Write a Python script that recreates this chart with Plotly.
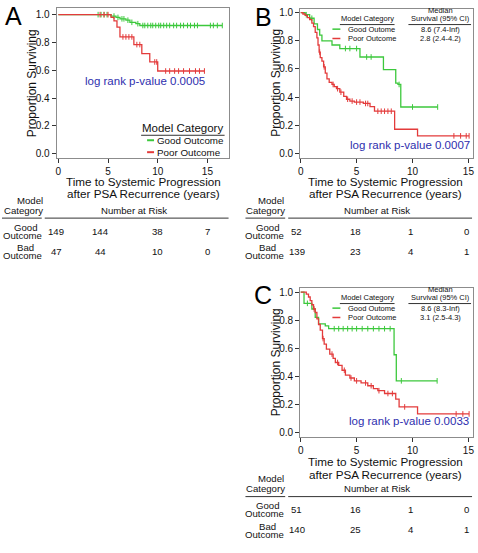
import numpy as np
import plotly.graph_objects as go

W, H = 478, 553
FONT = "Arial, 'Liberation Sans', sans-serif"
GREEN = "#3cc83c"
RED = "#e33b3b"
BLUE = "#2e2eae"
INK = "#111111"

# ---------------- data ----------------
# Panel A
a_good_time = [0, 5.3, 5.8, 6.2, 6.8, 7.2, 7.8, 8.2, 16.5]
a_good_surv = [1.0, 0.99, 0.98, 0.97, 0.96, 0.945, 0.935, 0.922, 0.922]
a_good_cens = [4.0, 4.3, 4.6, 4.9, 5.6, 6.0, 6.4, 6.6, 7.0, 7.4, 8.0, 8.5, 8.7, 9.0, 9.3,
               9.5, 9.8, 10.1, 10.3, 10.6, 10.9, 11.2, 11.6, 11.9, 12.3, 12.6, 13.0, 13.3,
               13.7, 14.0, 15.3, 15.6, 16.0, 16.5]
a_poor_time = [0, 5.3, 5.6, 5.9, 6.2, 7.6, 8.4, 9.2, 10.0, 14.7]
a_poor_surv = [1.0, 0.98, 0.955, 0.91, 0.84, 0.785, 0.72, 0.66, 0.595, 0.595]
a_poor_cens = [4.2, 4.6, 5.0, 6.5, 6.8, 7.1, 7.4, 7.9, 8.2, 9.7, 9.9, 10.8, 11.2, 11.7,
               12.1, 12.6, 13.2, 13.8, 14.2, 14.7]

# Panel B
b_good_time = [0, 0.4, 0.8, 1.2, 1.5, 1.7, 1.9, 2.8, 3.5, 5.3, 7.4, 8.5, 8.7, 8.95, 12.25]
b_good_surv = [1.0, 0.985, 0.96, 0.92, 0.88, 0.84, 0.80, 0.77, 0.745, 0.685, 0.595, 0.5,
               0.49, 0.33, 0.33]
b_good_cens = [0.5, 1.0, 4.0, 4.4, 5.0, 5.9, 6.3, 8.8, 10.0, 12.25]
b_poor_time = [0, 0.2, 0.4, 0.6, 0.8, 1.0, 1.15, 1.3, 1.45, 1.55, 1.65, 1.75, 1.9, 2.05,
               2.2, 2.35, 2.55, 2.8, 3.0, 3.2, 3.5, 3.85, 4.1, 4.4, 4.8, 5.6, 6.2, 6.6,
               8.4, 10.45, 15.06]
b_poor_surv = [1.0, 0.99, 0.98, 0.965, 0.95, 0.925, 0.9, 0.86, 0.82, 0.77, 0.72, 0.68,
               0.655, 0.615, 0.57, 0.53, 0.505, 0.49, 0.475, 0.46, 0.435, 0.405, 0.385,
               0.372, 0.365, 0.355, 0.332, 0.30, 0.172, 0.125, 0.125]
b_poor_cens = [1.7, 2.1, 2.9, 3.3, 3.6, 4.2, 4.6, 5.0, 5.3, 5.8, 6.0, 6.9, 7.2, 7.5, 7.8,
               8.1, 13.7, 14.3, 14.8, 15.06]

# Panel C
c_good_time = [0, 0.3, 1.0, 1.3, 1.6, 2.2, 2.5, 8.35, 8.55, 12.2]
c_good_surv = [1.0, 0.92, 0.88, 0.82, 0.775, 0.76, 0.74, 0.555, 0.37, 0.37]
c_good_cens = [0.6, 3.0, 3.4, 3.8, 4.2, 4.6, 5.0, 5.5, 6.0, 6.5, 7.0, 7.5, 8.0, 9.0, 12.2]
c_poor_time = [0, 0.5, 0.7, 0.85, 1.0, 1.15, 1.3, 1.45, 1.6, 1.75, 1.95, 2.1, 2.3, 2.6,
               2.9, 3.1, 3.4, 3.7, 4.0, 4.4, 4.8, 5.4, 6.0, 6.5, 6.9, 7.5, 8.5, 8.8,
               10.45, 15.06]
c_poor_surv = [1.0, 0.985, 0.965, 0.94, 0.91, 0.88, 0.855, 0.81, 0.77, 0.73, 0.67, 0.63,
               0.595, 0.56, 0.53, 0.5, 0.48, 0.445, 0.41, 0.39, 0.37, 0.355, 0.335,
               0.315, 0.3, 0.28, 0.24, 0.185, 0.135, 0.135]
c_poor_cens = [1.2, 2.0, 2.8, 3.3, 3.9, 4.5, 5.0, 5.8, 6.3, 7.0, 7.8, 8.2, 9.3, 13.9,
               14.5, 15.06]

# Risk tables
risk_times = [0, 5, 10, 15]
a_risk_good = [149, 144, 38, 7]
a_risk_bad = [47, 44, 10, 0]
b_risk_good = [52, 18, 1, 0]
b_risk_bad = [139, 23, 4, 1]
c_risk_good = [51, 16, 1, 0]
c_risk_bad = [140, 25, 4, 1]

# Text
pvalues = ["0.0005", "0.0007", "0.0033"]
group_labels_a = ["Good Outcome", "Poor Outcome"]
group_labels_bc = ["Good Outome", "Poor Outcome"]
b_medians = ["8.6 (7.4-Inf)", "2.8 (2.4-4.2)"]
c_medians = ["8.6 (8.3-Inf)", "3.1 (2.5-4.3)"]
x_ticks = [0, 5, 10, 15]
y_ticks = [0.0, 0.2, 0.4, 0.6, 0.8, 1.0]


def px(x):
    return x / W


def py(y):
    return 1 - y / H


def step_at(times, surv, t):
    i = int(np.searchsorted(np.array(times), t, side="right")) - 1
    return surv[max(i, 0)]


fig = go.Figure()


def add_curve(times, surv, cens, color, ax):
    xa = "x" if ax == 1 else f"x{ax}"
    ya = "y" if ax == 1 else f"y{ax}"
    fig.add_trace(go.Scatter(x=times, y=surv, mode="lines", line=dict(color=color, width=1.3, shape="hv"),
                             xaxis=xa, yaxis=ya, showlegend=False, hoverinfo="skip"))
    fig.add_trace(go.Scatter(x=cens, y=[step_at(times, surv, t) for t in cens], mode="markers",
                             marker=dict(symbol="line-ns-open", size=4, color=color,
                                         line=dict(color=color, width=1)),
                             xaxis=xa, yaxis=ya, showlegend=False, hoverinfo="skip"))


add_curve(a_good_time, a_good_surv, a_good_cens, GREEN, 1)
add_curve(a_poor_time, a_poor_surv, a_poor_cens, RED, 1)
add_curve(b_good_time, b_good_surv, b_good_cens, GREEN, 2)
add_curve(b_poor_time, b_poor_surv, b_poor_cens, RED, 2)
add_curve(c_good_time, c_good_surv, c_good_cens, GREEN, 3)
add_curve(c_poor_time, c_poor_surv, c_poor_cens, RED, 3)

axis_common = dict(showgrid=False, zeroline=False, showline=True, linecolor="#8c8c8c", linewidth=1,
                   mirror=True, ticks="outside", ticklen=4, tickcolor="#333", tickwidth=1,
                   tickfont=dict(family=FONT, size=10, color=INK), fixedrange=True)

# panel geometry in pixels: (left, right, top, bottom), xrange, yrange
panels = {
    1: dict(box=(55, 228, 6, 157), xr=[-0.17, 17.13], yr=[-0.031, 1.048]),
    2: dict(box=(300, 474, 6.7, 156.7), xr=[-0.05, 15.41], yr=[-0.031, 1.028]),
    3: dict(box=(300, 474, 287.7, 437.7), xr=[-0.05, 15.41], yr=[-0.031, 1.028]),
}
layout_axes = {}
for k, p in panels.items():
    l, r, t, b = p["box"]
    xname = "xaxis" if k == 1 else f"xaxis{k}"
    yname = "yaxis" if k == 1 else f"yaxis{k}"
    layout_axes[xname] = dict(axis_common, domain=[px(l), px(r)], range=p["xr"], tickvals=x_ticks,
                              anchor="y" if k == 1 else f"y{k}")
    layout_axes[yname] = dict(axis_common, domain=[py(b), py(t)], range=p["yr"], tickvals=y_ticks,
                              tickformat=".1f", anchor="x" if k == 1 else f"x{k}")

annotations = []
shapes = []


def txt(x, y, s, size=10, color=INK, xanchor="center", **kw):
    annotations.append(dict(x=px(x), y=py(y), xref="paper", yref="paper", text=s, showarrow=False,
                            xanchor=xanchor, yanchor="middle", borderpad=0,
                            font=dict(family=FONT, size=size, color=color), **kw))


def hline(x0, x1, y, color="#222", width=1):
    shapes.append(dict(type="line", xref="paper", yref="paper", x0=px(x0), x1=px(x1), y0=py(y), y1=py(y),
                       line=dict(color=color, width=width)))


# Panel letters
txt(12, 14, "A", size=25, color="#000")
txt(263, 15, "B", size=25, color="#000")
txt(263, 295, "C", size=25, color="#000")

# Axis titles
for (ytx, yc, x1c, t1, t2) in [(30, 82, 142, 180, 193), (275, 81, 386, 180, 193),
                                (276, 362, 386, 462, 475)]:
    txt(ytx, yc, "Proportion Surviving", size=12, textangle=-90)
    txt(x1c, t1, "Time to Systemic Progression", size=11.7)
    txt(x1c, t2, "after PSA Recurrence (years)", size=11.7)

# log-rank text
txt(143.5, 79, "log rank p-value " + pvalues[0], size=11.5, color=BLUE)
txt(472, 143.5, "log rank p-value " + pvalues[1], size=11.5, color=BLUE, xanchor="right")
txt(471, 421, "log rank p-value " + pvalues[2], size=11.5, color=BLUE, xanchor="right")

# Legend panel A
txt(223, 127, "Model Category", size=11.5, xanchor="right")
hline(140, 224, 134, color="#333")
for i, (lab, col) in enumerate(zip(group_labels_a, [GREEN, RED])):
    yy = 139 + 12 * i
    shapes.append(dict(type="line", xref="paper", yref="paper", x0=px(146), x1=px(153), y0=py(yy), y1=py(yy),
                       line=dict(color=col, width=2)))
    txt(155, yy, lab, size=9.8, xanchor="left")

# Legends panels B and C
for dy, meds in [(0, b_medians), (280.5, c_medians)]:
    txt(367.5, 16.7 + dy, "Model Category", size=7.5)
    hline(340, 395, 22.7 + dy, color="#333")
    txt(441.5, 8.3 + dy, "Median", size=7.5)
    txt(441.5, 16.7 + dy, "Survival (95% CI)", size=7.5)
    hline(409, 472, 22.7 + dy, color="#333")
    for i, (lab, col) in enumerate(zip(group_labels_bc, [GREEN, RED])):
        yy = 27.3 + 9.4 * i + dy
        shapes.append(dict(type="line", xref="paper", yref="paper", x0=px(332.5), x1=px(340.5),
                           y0=py(yy), y1=py(yy), line=dict(color=col, width=1.5)))
        txt(347, yy, lab, size=7.5, xanchor="left")
        txt(441.5, yy, meds[i], size=7.5)

# Risk tables
TS = 9.6
tables = [
    dict(xref="x", cx=21, nx=133, l0=0, l1=40, m0=43, m1=228, dy=0, good=a_risk_good, bad=a_risk_bad,
         shifts=[-2, -8, 0, 0]),
    dict(xref="x2", cx=264, nx=377, l0=245, l1=285, m0=288, m1=473, dy=0, good=b_risk_good, bad=b_risk_bad,
         shifts=[-4, -1, -2, -2]),
    dict(xref="x3", cx=264, nx=377, l0=245, l1=285, m0=288, m1=473, dy=280, good=c_risk_good,
         bad=c_risk_bad, shifts=[-4, -1, -2, -2]),
]
for tb in tables:
    d = tb["dy"]
    txt(tb["cx"] + 7, 199.3 + d, "Model", size=TS)
    txt(tb["cx"] + 1, 209.3 + d, "Category", size=TS)
    txt(tb["nx"], 209.3 + d, "Number at Risk", size=TS)
    hline(tb["l0"], tb["l1"], 217.3 + d, color="#333")
    hline(tb["m0"], tb["m1"], 217.3 + d, color="#333")
    txt(tb["cx"] + 3, 226.7 + d, "Good", size=TS)
    txt(tb["cx"], 234.7 + d, "Outcome", size=TS)
    txt(tb["cx"] + 3, 247.3 + d, "Bad", size=TS)
    txt(tb["cx"], 255.3 + d, "Outcome", size=TS)
    for row, yy in [(tb["good"], 230.7 + d), (tb["bad"], 250.7 + d)]:
        for t, n, sh in zip(risk_times, row, tb["shifts"]):
            annotations.append(dict(x=t, y=py(yy), xref=tb["xref"], yref="paper", text=str(n),
                                    showarrow=False, xanchor="center", yanchor="middle", xshift=sh,
                                    borderpad=0, font=dict(family=FONT, size=TS, color=INK)))

fig.update_layout(width=W, height=H, autosize=False, margin=dict(l=0, r=0, t=0, b=0),
                  paper_bgcolor="white", plot_bgcolor="white", showlegend=False,
                  annotations=annotations, shapes=shapes, **layout_axes)

fig.write_html("out.html", config={"displayModeBar": False},
               post_script="document.body.style.margin='0';document.body.style.overflow='hidden';")
